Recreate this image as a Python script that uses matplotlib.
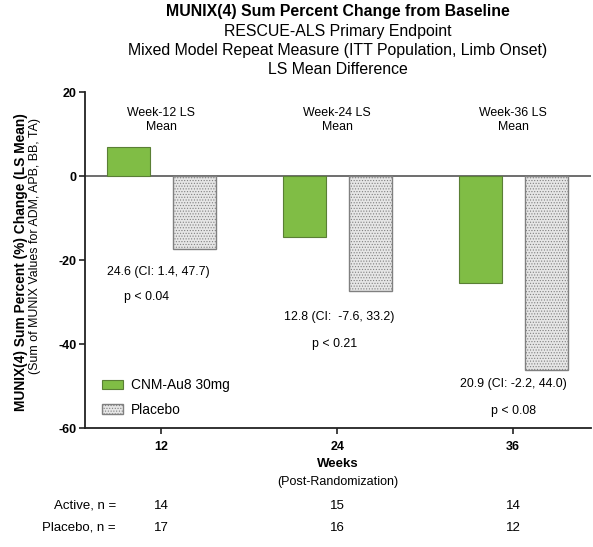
import numpy as np
import matplotlib
matplotlib.use('Agg')
import matplotlib.pyplot as plt
from matplotlib.patches import Patch

plt.rcParams['font.family'] = ['Liberation Sans', 'DejaVu Sans']
plt.rcParams['hatch.linewidth'] = 0.5
plt.rcParams['axes.unicode_minus'] = False

# data
weeks = [12, 24, 36]
active = [6.9, -14.6, -25.4]
placebo = [-17.4, -27.3, -46.3]
week_labels = ['Week-12 LS\nMean', 'Week-24 LS\nMean', 'Week-36 LS\nMean']
diff_labels = ['24.6 (CI: 1.4, 47.7)', '12.8 (CI:  -7.6, 33.2)', '20.9 (CI: -2.2, 44.0)']
p_labels = ['p < 0.04', 'p < 0.21', 'p < 0.08']
n_active = [14, 15, 14]
n_placebo = [17, 16, 12]

green = '#80bd45'
fig = plt.figure(figsize=(5.93, 5.47), dpi=100)
ax = fig.add_axes([0.1433, 0.2175, 0.8533, 0.6143])

w = 2.9
off = 2.25
x = np.array(weeks)
ax.bar(x - off, active, width=w, color=green, edgecolor='#5a7f35', linewidth=0.8)
ax.bar(x + off, placebo, width=w, color='#e6e6e6', edgecolor='#808080',
       linewidth=1.0, hatch='......')

ax.set_xlim(6.8, 41.3)
ax.set_ylim(-60, 20)
ax.set_yticks([20, 0, -20, -40, -60])
ax.set_xticks(weeks)
ax.set_xticklabels([str(v) for v in weeks], fontweight='bold', fontsize=9)
for t in ax.get_yticklabels():
    t.set_fontweight('bold')
    t.set_fontsize(9)
ax.axhline(0, color='#555555', lw=1.2, zorder=0)
ax.spines['top'].set_visible(False)
ax.spines['right'].set_visible(False)
for s in ['left', 'bottom']:
    ax.spines[s].set_linewidth(1.3)
    ax.spines[s].set_color('#222222')
ax.tick_params(length=4, width=1.2, color='#222222', pad=2)
ax.tick_params(axis='x', pad=5)

# annotations
for i, wk in enumerate(weeks):
    ax.text(wk, 13.3, week_labels[i], ha='center', va='center', fontsize=8.9, linespacing=1.15)
for xx, yy, s in zip([11.8, 24.1, 36.0], [-22.9, -33.6, -49.5], diff_labels):
    ax.text(xx, yy, s, ha='center', va='center', fontsize=8.9)
for xx, yy, s in zip([11.0, 23.8, 36.0], [-28.8, -40.0, -56.0], p_labels):
    ax.text(xx, yy, s, ha='center', va='center', fontsize=8.9)

handles = [Patch(facecolor=green, edgecolor='#5a7f35', lw=0.8),
           Patch(facecolor='#e6e6e6', edgecolor='#808080', hatch='......', lw=1.0)]
ax.legend(handles, ['CNM-Au8 30mg', 'Placebo'], loc='upper left',
          bbox_to_anchor=(0.01, 0.185), frameon=False, fontsize=9.9,
          handlelength=1.5, handleheight=0.7, labelspacing=0.75, handletextpad=0.6)

# titles
fig.text(0.569, 0.979, 'MUNIX(4) Sum Percent Change from Baseline', ha='center', va='center',
         fontsize=11.4, fontweight='bold')
fig.text(0.569, 0.942, 'RESCUE-ALS Primary Endpoint', ha='center', va='center', fontsize=11.4)
fig.text(0.569, 0.908, 'Mixed Model Repeat Measure (ITT Population, Limb Onset)', ha='center',
         va='center', fontsize=11.4)
fig.text(0.569, 0.873, 'LS Mean Difference', ha='center', va='center', fontsize=11.4)

fig.text(21 / 593, 1 - 262 / 547, 'MUNIX(4) Sum Percent (%) Change (LS Mean)', rotation=90,
         ha='center', va='center', fontsize=9.9, fontweight='bold')
fig.text(35 / 593, 1 - 246 / 547, '(Sum of MUNIX Values for ADM, APB, BB, TA)', rotation=90,
         ha='center', va='center', fontsize=8.9)

fig.text(0.569, 1 - 464 / 547, 'Weeks', ha='center', va='center', fontsize=9.5, fontweight='bold')
fig.text(0.569, 1 - 482 / 547, '(Post-Randomization)', ha='center', va='center', fontsize=9)

fig.text(116 / 593, 1 - 506 / 547, 'Active, n =', ha='right', va='center', fontsize=9.5)
fig.text(116 / 593, 1 - 528 / 547, 'Placebo, n =', ha='right', va='center', fontsize=9.5)
for wk, na, npl in zip(weeks, n_active, n_placebo):
    xf = ax.transData.transform((wk, 0))[0] / fig.bbox.width
    fig.text(xf, 1 - 506 / 547, str(na), ha='center', va='center', fontsize=9.5)
    fig.text(xf, 1 - 528 / 547, str(npl), ha='center', va='center', fontsize=9.5)

fig.savefig('out.png', dpi=100, facecolor='white')
